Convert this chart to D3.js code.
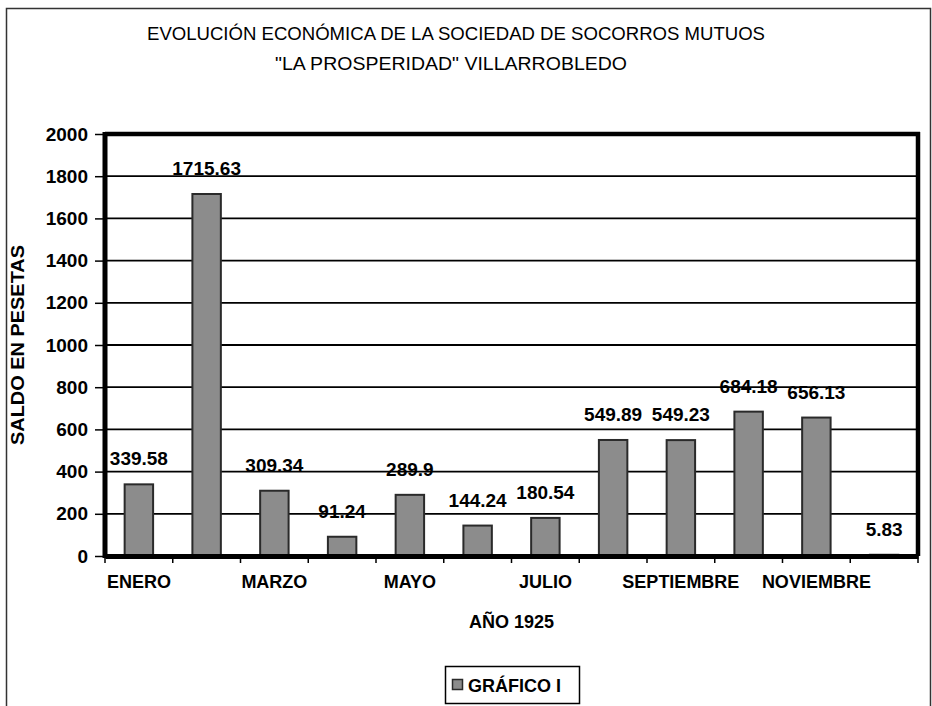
<!DOCTYPE html>
<html><head><meta charset="utf-8">
<script src="https://cdn.jsdelivr.net/npm/d3@7"></script>
<style>body{margin:0;background:#fff}svg{display:block}text{font-family:"Liberation Sans",Arial,sans-serif}</style>
</head><body><svg id="c" width="932" height="706"></svg>
<script>
const months = ["ENERO","FEBRERO","MARZO","ABRIL","MAYO","JUNIO","JULIO","AGOSTO","SEPTIEMBRE","OCTUBRE","NOVIEMBRE","DICIEMBRE"];
const shownMonths = ["ENERO","MARZO","MAYO","JULIO","SEPTIEMBRE","NOVIEMBRE"];
const saldo = [339.58,1715.63,309.34,91.24,289.9,144.24,180.54,549.89,549.23,684.18,656.13,5.83];
const valueLabels = ["339.58","1715.63","309.34","91.24","289.9","144.24","180.54","549.89","549.23","684.18","656.13","5.83"];
const yTicks = [0,200,400,600,800,1000,1200,1400,1600,1800,2000];
const titleLines = ["EVOLUCIÓN ECONÓMICA DE LA SOCIEDAD DE SOCORROS MUTUOS", "\"LA PROSPERIDAD\" VILLARROBLEDO"];
const yTitle = "SALDO EN PESETAS";
const xTitle = "AÑO 1925";
const seriesName = "GRÁFICO I";

const svg = d3.select("#c");
const L=105, R=918, T=134, B=556;
const x = d3.scaleBand().domain(months).range([L,R]).paddingInner(0.58).paddingOuter(0.29);
const xb = d3.scaleBand().domain(months).range([L,R]);
const y = d3.scaleLinear().domain([0,2000]).range([B,T]);
const FF = "Liberation Sans, Arial, sans-serif";

// outer frame
svg.append("rect").attr("x",6.5).attr("y",8.5).attr("width",924).attr("height",710).attr("fill","none").attr("stroke","#333").attr("stroke-width",1.5);

// titles
svg.append("text").attr("x",456).attr("y",40).attr("text-anchor","middle").attr("font-size",18.5).attr("textLength",618).attr("lengthAdjust","spacingAndGlyphs").text(titleLines[0]);
svg.append("text").attr("x",451).attr("y",70).attr("text-anchor","middle").attr("font-size",18.5).attr("textLength",352).attr("lengthAdjust","spacingAndGlyphs").text(titleLines[1]);

// gridlines
svg.append("g").selectAll("line").data(yTicks.filter(d=>d>0&&d<2000)).join("line")
  .attr("x1",L).attr("x2",R).attr("y1",d=>y(d)).attr("y2",d=>y(d)).attr("stroke","#000").attr("stroke-width",1.8);

// bars
svg.append("g").selectAll("rect").data(saldo).join("rect")
  .attr("x",(d,i)=>x(months[i])).attr("width",x.bandwidth())
  .attr("y",d=>y(d)).attr("height",d=>B-y(d))
  .attr("fill","#8c8c8c").attr("stroke","#2a2a2a").attr("stroke-width",2);

// plot frame
svg.append("line").attr("x1",L).attr("x2",R+2).attr("y1",T).attr("y2",T).attr("stroke","#000").attr("stroke-width",4.5);
svg.append("line").attr("x1",R).attr("x2",R).attr("y1",T-2).attr("y2",B).attr("stroke","#000").attr("stroke-width",4.5);
svg.append("line").attr("x1",L).attr("x2",L).attr("y1",T-2).attr("y2",B+2).attr("stroke","#000").attr("stroke-width",5);

// y axis
const ya = svg.append("g").attr("transform",`translate(${L-2},0)`)
  .call(d3.axisLeft(y).tickValues(yTicks).tickSize(8).tickPadding(7).tickFormat(d3.format("d")));
ya.select(".domain").remove();
ya.selectAll("line").attr("stroke","#000").attr("stroke-width",1.5);
ya.selectAll("text").attr("font-size",19).attr("font-weight","bold").attr("fill","#000").attr("font-family",FF);

// x axis
const xa = svg.append("g").attr("transform",`translate(0,${B})`)
  .call(d3.axisBottom(xb).tickSize(0).tickPadding(23).tickFormat(d=>shownMonths.includes(d)?d:""));
xa.select(".domain").attr("stroke","#000").attr("stroke-width",5);
xa.selectAll("text").attr("font-size",18).attr("font-weight","bold").attr("fill","#000").attr("font-family",FF).attr("dy","0.5em");
xa.append("g").selectAll("line").data(d3.range(months.length+1)).join("line")
  .attr("x1",i=>L+i*xb.step()).attr("x2",i=>L+i*xb.step()).attr("y1",0).attr("y2",7).attr("stroke","#000").attr("stroke-width",1.5);

// value labels
svg.append("g").selectAll("text").data(saldo).join("text")
  .attr("x",(d,i)=>xb(months[i])+xb.bandwidth()/2).attr("y",d=>y(d)-19)
  .attr("text-anchor","middle").attr("font-size",19).attr("font-weight","bold").text((d,i)=>valueLabels[i]);

// axis titles
svg.append("text").attr("transform",`translate(24,${(T+B)/2}) rotate(-90)`).attr("text-anchor","middle")
  .attr("font-size",19).attr("font-weight","bold").attr("textLength",200).attr("lengthAdjust","spacingAndGlyphs").text(yTitle);
svg.append("text").attr("x",(L+R)/2).attr("y",628).attr("text-anchor","middle").attr("font-size",18).attr("font-weight","bold").text(xTitle);

// legend
const lg = svg.append("g");
lg.append("rect").attr("x",445.5).attr("y",666.5).attr("width",134).attr("height",37).attr("fill","#fff").attr("stroke","#000").attr("stroke-width",1.5);
lg.append("rect").attr("x",452.5).attr("y",679.5).attr("width",10).attr("height",10).attr("fill","#8c8c8c").attr("stroke","#2a2a2a").attr("stroke-width",1.5);
lg.append("text").attr("x",468).attr("y",692).attr("font-size",18).attr("font-weight","bold").text(seriesName);
</script></body></html>
